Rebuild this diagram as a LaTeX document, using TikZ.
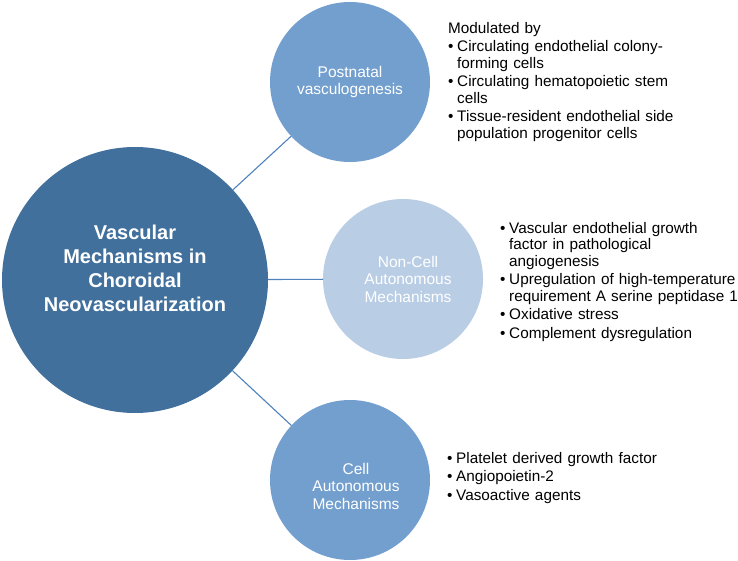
\documentclass[tikz,border=0pt]{standalone}
\usepackage{fontspec}
\setmainfont{Liberation Sans}
\definecolor{darkblue}{RGB}{65,112,156}
\definecolor{midblue}{RGB}{115,159,206}
\definecolor{lightblue}{RGB}{185,205,229}
\definecolor{linkblue}{RGB}{79,129,189}
\newcommand{\bitemx}[1]{\hangindent=9pt\hangafter=1\noindent\makebox[9pt][l]{\textbullet}#1}
\newcommand{\bitem}[1]{\par\bitemx{#1}}
\begin{document}
\begin{tikzpicture}[x=1pt,y=-1pt,
  circ/.style={circle, inner sep=0pt, outer sep=0pt, draw=none, minimum size=#1},
  conn/.style={draw=linkblue, line width=1.1pt},
  clabel/.style={align=center, text=white, inner sep=0pt, font=\fontsize{15.5}{17.5}\selectfont},
  blabel/.style={align=center, text=white, inner sep=0pt, font=\bfseries\fontsize{20}{24}\selectfont},
  listtext/.style={anchor=north west, inner sep=0pt, text width=300pt, align=left,
    font=\fontsize{15.3}{16.5}\selectfont, execute at begin node={\setlength{\parskip}{2pt}}}]
\useasboundingbox (0,0) rectangle (738,561);
\node[circ=266pt, fill=darkblue] (big) at (135,280) {};
\node[circ=160pt, fill=midblue] (post) at (350,82) {};
\node[circ=160pt, fill=lightblue] (noncell) at (403,279) {};
\node[circ=160pt, fill=midblue] (cell) at (350,480) {};
\draw[conn] (big) -- (post);
\draw[conn] (big) -- (noncell);
\draw[conn] (big) -- (cell);
\node[blabel] (bigL) at (135,268) {Vascular\\Mechanisms in\\Choroidal\\Neovascularization};
\node[clabel] (postL) at (350,82) {Postnatal\\vasculogenesis};
\node[clabel] (noncellL) at (408,279) {Non-Cell\\Autonomous\\Mechanisms};
\node[clabel] (cellL) at (356,486) {Cell\\Autonomous\\Mechanisms};
\node[listtext] (postT) at (448,22) {Modulated by
  \bitem{Circulating endothelial colony-\newline forming cells}
  \bitem{Circulating hematopoietic stem\newline cells}
  \bitem{Tissue-resident endothelial side\newline population progenitor cells}\par};
\node[listtext] (noncellT) at (500,222) {\bitemx{Vascular endothelial growth\newline factor in pathological\newline angiogenesis}
  \bitem{Upregulation of high-temperature\newline requirement A serine peptidase 1}
  \bitem{Oxidative stress}
  \bitem{Complement dysregulation}\par};
\node[listtext] (cellT) at (447,452) {\bitemx{Platelet derived growth factor}
  \bitem{Angiopoietin-2}
  \bitem{Vasoactive agents}\par};
\end{tikzpicture}
\end{document}
